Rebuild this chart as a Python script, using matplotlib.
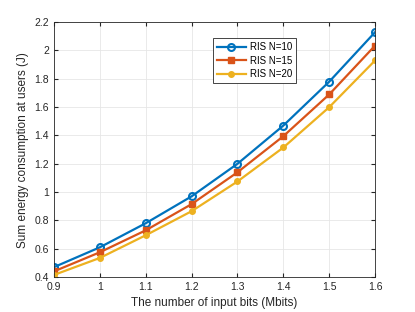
import matplotlib
matplotlib.use("Agg")
import matplotlib.pyplot as plt

# input bits (Mbits)
bits = [0.9, 1.0, 1.1, 1.2, 1.3, 1.4, 1.5, 1.6]

# sum energy consumption (J)
ris10 = [0.47, 0.61, 0.78, 0.97, 1.20, 1.47, 1.78, 2.13]
ris15 = [0.44, 0.575, 0.73, 0.915, 1.14, 1.395, 1.69, 2.035]
ris20 = [0.415, 0.535, 0.695, 0.865, 1.075, 1.315, 1.60, 1.93]

plt.rcParams['font.family'] = ['Liberation Sans', 'DejaVu Sans']
plt.rcParams['font.size'] = 7.5

fig = plt.figure(figsize=(4.15, 3.12), dpi=100)
ax = fig.add_axes([0.130, 0.112, 0.774, 0.817])

ax.plot(bits, ris10, '-o', color='#0072BD', lw=1.6, ms=5, mfc='none', mew=1.5, label='RIS N=10')
ax.plot(bits, ris15, '-s', color='#D95319', lw=1.6, ms=4.5, mfc='#D95319', label='RIS N=15')
ax.plot(bits, ris20, '-o', color='#EDB120', lw=1.6, ms=4, mfc='#EDB120', label='RIS N=20')

ax.set_xlim(0.9, 1.6)
ax.set_ylim(0.4, 2.2)
ax.set_xticks(bits)
ax.set_xticklabels(['0.9', '1', '1.1', '1.2', '1.3', '1.4', '1.5', '1.6'])
ax.set_yticks([0.4, 0.6, 0.8, 1.0, 1.2, 1.4, 1.6, 1.8, 2.0, 2.2])
ax.set_yticklabels(['0.4', '0.6', '0.8', '1', '1.2', '1.4', '1.6', '1.8', '2', '2.2'])
ax.grid(True, color='#e6e6e6', lw=0.6)
ax.tick_params(direction='in', length=3, color='#262626', labelcolor='#262626', top=True, right=True)
for s in ax.spines.values():
    s.set_color('#262626')
    s.set_linewidth(0.6)

ax.set_xlabel('The number of input bits (Mbits)', color='#262626', fontsize=8.5)
ax.set_ylabel('Sum energy consumption at users (J)', color='#262626', fontsize=8.5)

leg = ax.legend(loc='upper left', bbox_to_anchor=(0.48, 0.955), fancybox=False,
                edgecolor='#262626', framealpha=1, handlelength=3, borderpad=0.4,
                labelspacing=0.35, handletextpad=0.4, fontsize=7)
leg.get_frame().set_linewidth(0.6)

fig.savefig('out.png', dpi=100)
